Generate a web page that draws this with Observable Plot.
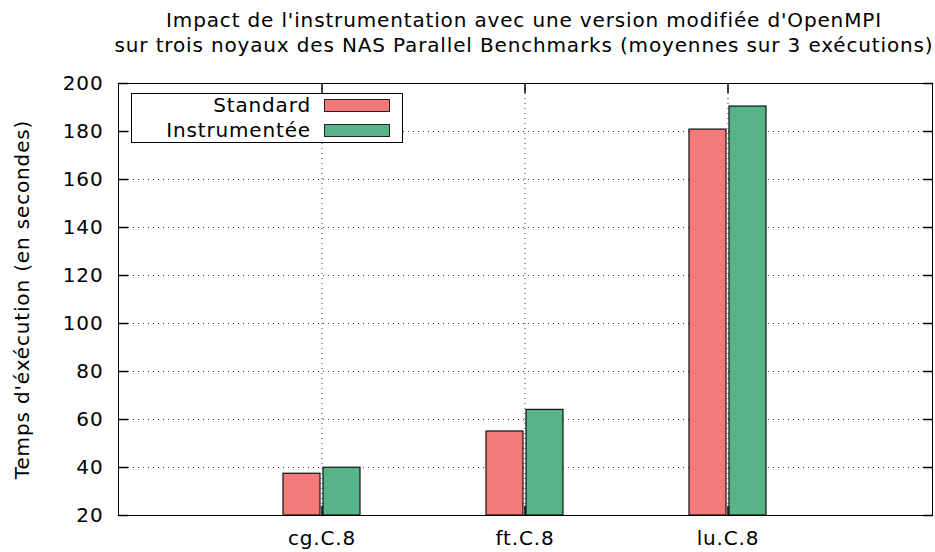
<!DOCTYPE html>
<html>
<head>
<meta charset="utf-8">
<script src="https://cdn.jsdelivr.net/npm/d3@7"></script>
<script src="https://cdn.jsdelivr.net/npm/@observablehq/plot@0.6"></script>
<style>
  body { margin: 0; background: #fff; font-family: "DejaVu Sans", sans-serif; color: #000; }
  #wrap { position: relative; width: 935px; height: 552px; }
  #title { height: 70px; box-sizing: border-box; padding-top: 8px; margin-left: 118px; width: 812px;
           display: flex; flex-direction: column; align-items: center; font-size: 20px; line-height: 25px; letter-spacing: 0.85px; }
  #title div { white-space: nowrap; }
  #legend { position: absolute; left: 131px; top: 93px; width: 272px; height: 50px; box-sizing: border-box;
            border: 1px solid #000; background: #fff; font-size: 20px; letter-spacing: 0.85px; }
  .row { position: absolute; left: 0; width: 270px; height: 24px; }
  .row span { position: absolute; right: 91px; line-height: 24px; top: 0; white-space: nowrap; }
  .row i { position: absolute; left: 192px; top: 5.5px; width: 66px; height: 13px; box-sizing: border-box; border: 1px solid #222; }
</style>
</head>
<body>
<div id="wrap">
  <div id="title"></div>
  <div id="chart"></div>
  <div id="legend"></div>
</div>
<script>
const titleLines = ["Impact de l'instrumentation avec une version modifiée d'OpenMPI",
                    "sur trois noyaux des NAS Parallel Benchmarks (moyennes sur 3 exécutions)"];
const yLabel = "Temps d'éxécution (en secondes)";
const benchmarks = ["cg.C.8", "ft.C.8", "lu.C.8"];
const series = ["Standard", "Instrumentée"];
const colors = ["#f37a78", "#57b488"];
const standard = [37.4, 55.0, 180.8];
const instrumented = [39.9, 64.0, 190.4];
const yDomain = [20, 200];
const yTicks = [20, 40, 60, 80, 100, 120, 140, 160, 180, 200];

// title
const t = document.getElementById("title");
titleLines.forEach(l => { const d = document.createElement("div"); d.textContent = l; t.appendChild(d); });

const dataStd = benchmarks.map((b, i) => ({bench: b, value: standard[i]}));
const dataIns = benchmarks.map((b, i) => ({bench: b, value: instrumented[i]}));

const tickShape = {draw(context, l) { context.moveTo(0, 0); context.lineTo(0, -l); }};
const grid = {stroke: "#333", strokeOpacity: 1, strokeWidth: 1, strokeDasharray: "1,4"};

const chart = Plot.plot({
  width: 935,
  height: 482,
  marginTop: 13,
  marginBottom: 37,
  marginLeft: 118,
  marginRight: 3,
  style: {fontFamily: "DejaVu Sans", fontSize: "20px", letterSpacing: "0.85px", color: "#000", background: "#fff", overflow: "visible"},
  x: {type: "band", domain: benchmarks, paddingInner: 0.62, paddingOuter: 0.81, label: null},
  y: {domain: yDomain, label: null},
  marks: [
    Plot.gridY(yTicks, grid),
    Plot.gridX(benchmarks, grid),
    Plot.barY(dataStd, {x: "bench", y1: () => yDomain[0], y2: "value", fill: colors[0], stroke: "#111", strokeWidth: 1.2, insetRight: 40}),
    Plot.barY(dataIns, {x: "bench", y1: () => yDomain[0], y2: "value", fill: colors[1], stroke: "#111", strokeWidth: 1.2, insetLeft: 40}),
    Plot.vector(yTicks, {y: d => d, frameAnchor: "left", length: 9, rotate: 90, anchor: "start", shape: tickShape, stroke: "#000"}),
    Plot.vector(yTicks, {y: d => d, frameAnchor: "right", length: 9, rotate: -90, anchor: "start", shape: tickShape, stroke: "#000"}),
    Plot.vector(benchmarks, {x: d => d, frameAnchor: "bottom", length: 9, rotate: 0, anchor: "start", shape: tickShape, stroke: "#000"}),
    Plot.vector(benchmarks, {x: d => d, frameAnchor: "top", length: 9, rotate: 180, anchor: "start", shape: tickShape, stroke: "#000"}),
    Plot.axisY(yTicks, {tickSize: 0, tickPadding: 15, fontSize: 20, label: null}),
    Plot.axisX({tickSize: 0, tickPadding: 15, fontSize: 20, label: null}),
    Plot.text([yLabel], {text: d => d, frameAnchor: "left", textAnchor: "middle", lineAnchor: "middle", rotate: -90, dx: -96, fontSize: 20}),
    Plot.frame({stroke: "#000", strokeWidth: 1})
  ]
});
document.getElementById("chart").appendChild(chart);

// legend
const lg = document.getElementById("legend");
series.forEach((s, i) => {
  const row = document.createElement("div");
  row.className = "row";
  row.style.top = (i * 25 - 1) + "px";
  const sp = document.createElement("span"); sp.textContent = s;
  const sw = document.createElement("i"); sw.style.background = colors[i];
  row.appendChild(sp); row.appendChild(sw);
  lg.appendChild(row);
});
</script>
</body>
</html>
